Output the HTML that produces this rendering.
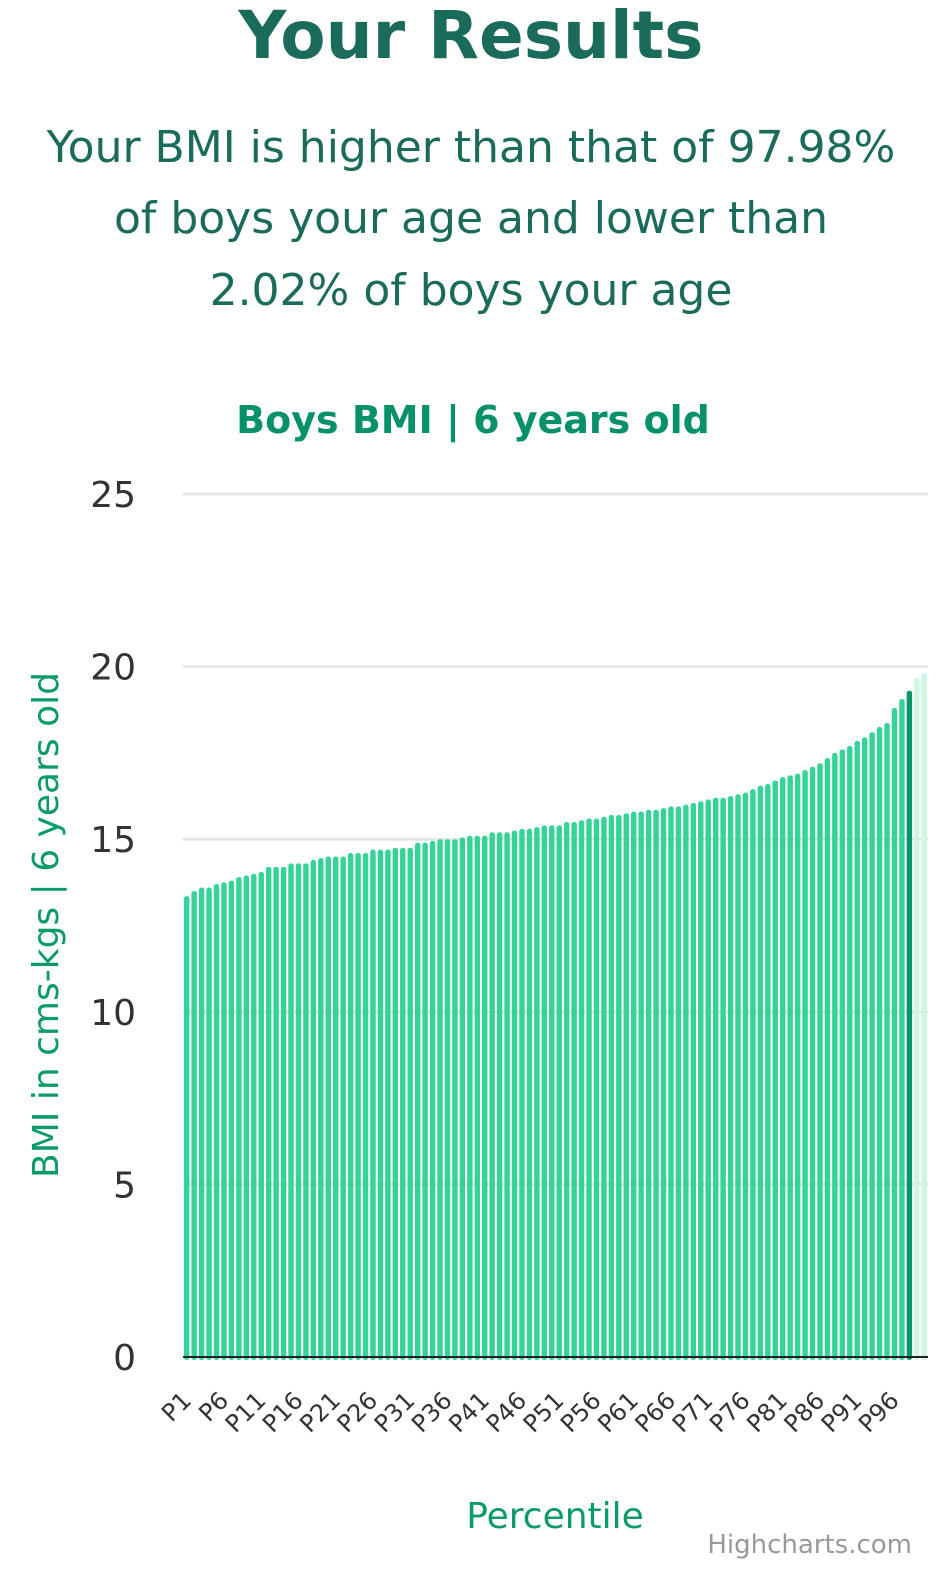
<!DOCTYPE html>
<html><head><meta charset="utf-8"><style>
body{margin:0;background:#fff;width:948px;height:1572px;overflow:hidden;font-family:"DejaVu Sans","Liberation Sans",sans-serif}
</style></head><body>
<svg width="948" height="1572" style="display:block">
<text x="471" y="58" text-anchor="middle" font-size="66" font-weight="bold" fill="#1b6b5b">Your Results</text>
<g font-size="44" fill="#1b6b5b" text-anchor="middle">
<text x="471" y="162">Your BMI is higher than that of 97.98%</text>
<text x="471" y="233">of boys your age and lower than</text>
<text x="471" y="305">2.02% of boys your age</text>
</g>
<text x="473" y="433" text-anchor="middle" font-size="38" font-weight="bold" fill="#07916a">Boys BMI | 6 years old</text>
<g id="grid"></g>
<g id="bars"></g>
<g id="ylabels" font-size="36" fill="#333" text-anchor="end"></g>
<g id="xlabels" font-size="24" fill="#333" text-anchor="end"></g>
<line x1="183" y1="1357" x2="928" y2="1357" stroke="#222" stroke-width="2"/>
<text transform="translate(58,925) rotate(-90)" text-anchor="middle" font-size="36" fill="#0a9a6c">BMI in cms-kgs | 6 years old</text>
<text x="555" y="1528" text-anchor="middle" font-size="36" fill="#0a9a6c">Percentile</text>
<text x="912" y="1553" text-anchor="end" font-size="26" fill="#999">Highcharts.com</text>
</svg>
<script>
const categories = Array.from({length:100},(_,i)=>'P'+(i+1));
const values = [13.35,13.5,13.6,13.6,13.7,13.75,13.8,13.9,13.95,14.0,14.05,14.2,14.2,14.2,14.3,14.3,14.3,14.4,14.45,14.5,14.5,14.5,14.6,14.6,14.6,14.7,14.7,14.7,14.75,14.75,14.75,14.9,14.9,14.95,15.0,15.0,15.0,15.05,15.1,15.1,15.1,15.2,15.2,15.2,15.25,15.3,15.3,15.35,15.4,15.4,15.4,15.5,15.5,15.55,15.6,15.6,15.65,15.7,15.7,15.75,15.8,15.8,15.85,15.85,15.9,15.95,15.95,16.0,16.05,16.1,16.15,16.2,16.2,16.25,16.3,16.35,16.45,16.55,16.6,16.7,16.8,16.85,16.9,17.0,17.1,17.2,17.35,17.5,17.6,17.7,17.85,17.95,18.1,18.25,18.37,18.8,19.06,19.3,19.67,19.82];
const yTicks = [0,5,10,15,20,25];
const highlightIndex = 97;
const NS='http://www.w3.org/2000/svg';
const x0=183,x1=928,yB=1357,yT=494,yMax=25;
const bw=(x1-x0)/categories.length;
const yS=v=>yB-(v/yMax)*(yB-yT);
const xS=i=>x0+i*bw;
const grid=document.getElementById('grid'),ylab=document.getElementById('ylabels');
yTicks.forEach(t=>{
  if(t>0){const l=document.createElementNS(NS,'line');
  
  
  l.setAttribute('x1',x0);l.setAttribute('x2',x1);l.setAttribute('y1',yS(t));l.setAttribute('y2',yS(t));
  l.setAttribute('stroke','#e6e6e6');l.setAttribute('stroke-width','3');grid.appendChild(l);}
  const tx=document.createElementNS(NS,'text');
  
  
  tx.setAttribute('x',136);tx.setAttribute('y',yS(t)+13);tx.textContent=t;ylab.appendChild(tx);
});
const bars=document.getElementById('bars');
values.forEach((v,i)=>{
  const r=document.createElementNS(NS,'rect');
  
  
  const w=bw-2;
  r.setAttribute('x',xS(i)+1);r.setAttribute('width',w);
  r.setAttribute('y',yS(v));r.setAttribute('height',yB-yS(v)+3);
  r.setAttribute('rx',2.5);
  r.setAttribute('fill',i===highlightIndex?'#059669':(i>highlightIndex?'#cef7e3':'#36d399'));
  bars.appendChild(r);
});
const xl=document.getElementById('xlabels');
categories.forEach((c,i)=>{
  if(i%5!==0)return;
  const cx=xS(i)+bw/2+6,cy=1402;
  const t=document.createElementNS(NS,'text');
  
  
  t.setAttribute('x',cx);t.setAttribute('y',cy);
  t.setAttribute('transform','rotate(-45 '+cx+' '+cy+')');
  t.textContent=c;xl.appendChild(t);
});
</script>
</body></html>
